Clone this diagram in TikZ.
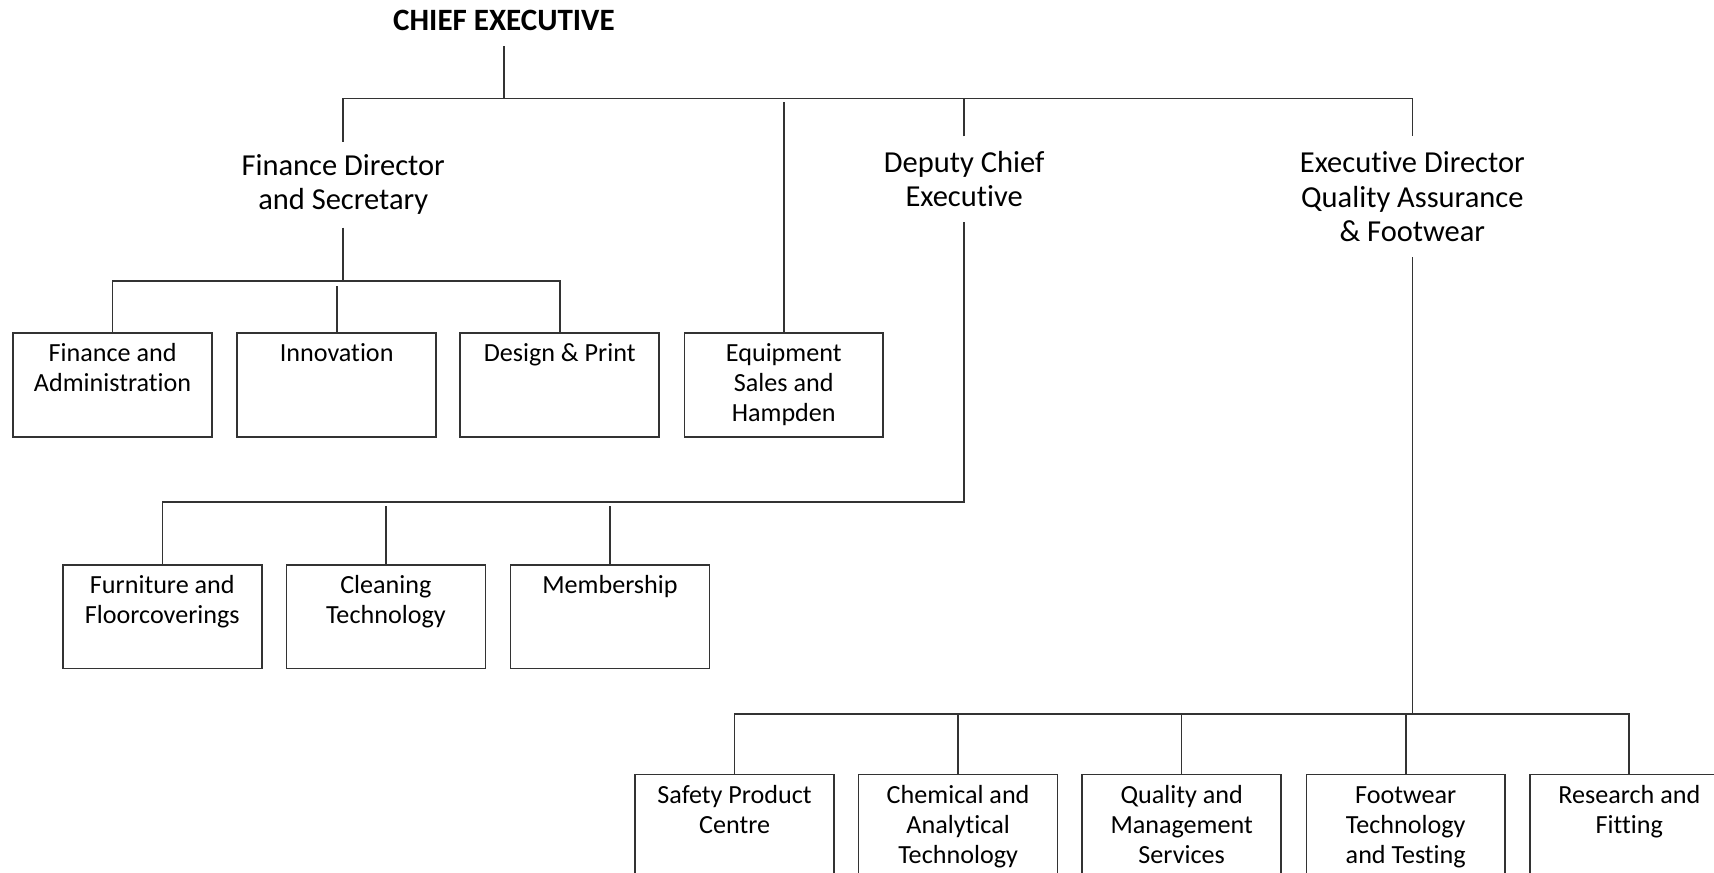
\documentclass[tikz,border=0pt]{standalone}
\usepackage{fontspec}
\setmainfont{Carlito}[RawFeature={-liga}]
\newcommand{\unittext}[1]{\parbox[c][95bp][t]{182bp}{\centering\vspace*{7bp}\strut #1}}
\tikzset{
  conn/.style={draw=black!80, line width=1.5bp},
  unit/.style={draw=black!80, line width=1.4bp, rectangle, inner sep=0pt, anchor=north,
               font=\fontsize{24}{27.5}\selectfont},
  head/.style={align=center, inner sep=0pt, minimum height=78bp,
               font=\fontsize{28}{31.5}\selectfont},
  chief/.style={inner sep=0pt, minimum height=46bp, font=\bfseries\fontsize{28.5}{31}\selectfont}
}
\begin{document}
\begin{tikzpicture}[x=1bp,y=-1bp]
\useasboundingbox (0,0) rectangle (1568,798);
\clip (0,0) rectangle (1568,798);
\fill[white] (0,0) rectangle (1568,798);

% levels
\coordinate (bar) at (0,90);
\coordinate (bar2) at (0,257);
\coordinate (bar3) at (0,459);
\coordinate (bar4) at (0,653);

% heads
\node[chief] (ce) at (461,19) {CHIEF EXECUTIVE};
\node[head] (fd) at (314,169) {Finance Director\\and Secretary};
\node[head] (dce) at (882,164) {Deputy Chief\\Executive};
\node[head, minimum height=110bp] (ed) at (1292,180) {Executive Director\\Quality Assurance\\\& Footwear};

% row 1
\node[unit] (fa) at (103,304) {\unittext{Finance and\\Administration}};
\node[unit] (inn) at (308,304) {\unittext{Innovation}};
\node[unit] (dp) at (512,304) {\unittext{Design \& Print}};
\node[unit] (eq) at (717,304) {\unittext{Equipment\\Sales and\\Hampden}};

% row 2
\node[unit] (ff) at (148.5,516) {\unittext{Furniture and\\Floorcoverings}};
\node[unit] (ct) at (353,516) {\unittext{Cleaning\\Technology}};
\node[unit] (mb) at (558,516) {\unittext{Membership}};

% row 3
\node[unit] (sp) at (672,708) {\unittext{Safety Product\\Centre}};
\node[unit] (ca) at (876.5,708) {\unittext{Chemical and\\Analytical\\Technology}};
\node[unit] (qm) at (1081,708) {\unittext{Quality and\\Management\\Services}};
\node[unit] (ft) at (1286,708) {\unittext{Footwear\\Technology\\and Testing}};
\node[unit] (rf) at (1490.5,708) {\unittext{Research and\\Fitting}};

% top level connectors
\draw[conn] (ce.south) -- (ce.south |- bar);
\draw[conn] (fd.north) -- (fd.north |- bar) -- (ed.north |- bar) -- (ed.north);
\draw[conn] (dce.north) -- (dce.north |- bar);
\draw[conn] (eq.north) -- ([yshift=-3bp]eq.north |- bar);

% finance director children
\draw[conn] (fd.south) -- (fd.south |- bar2);
\draw[conn] (fa.north) -- (fa.north |- bar2) -- (dp.north |- bar2) -- (dp.north);
\draw[conn] (inn.north) -- ([yshift=-5bp]inn.north |- bar2);

% deputy chief children
\draw[conn] (dce.south) -- (dce.south |- bar3) -- (ff.north |- bar3) -- (ff.north);
\draw[conn] (ct.north) -- ([yshift=-4bp]ct.north |- bar3);
\draw[conn] (mb.north) -- ([yshift=-4bp]mb.north |- bar3);

% executive director children
\draw[conn] (ed.south) -- (ed.south |- bar4);
\draw[conn] (sp.north) -- (sp.north |- bar4) -- (rf.north |- bar4) -- (rf.north);
\draw[conn] (ca.north) -- (ca.north |- bar4);
\draw[conn] (qm.north) -- (qm.north |- bar4);
\draw[conn] (ft.north) -- (ft.north |- bar4);
\end{tikzpicture}
\end{document}
